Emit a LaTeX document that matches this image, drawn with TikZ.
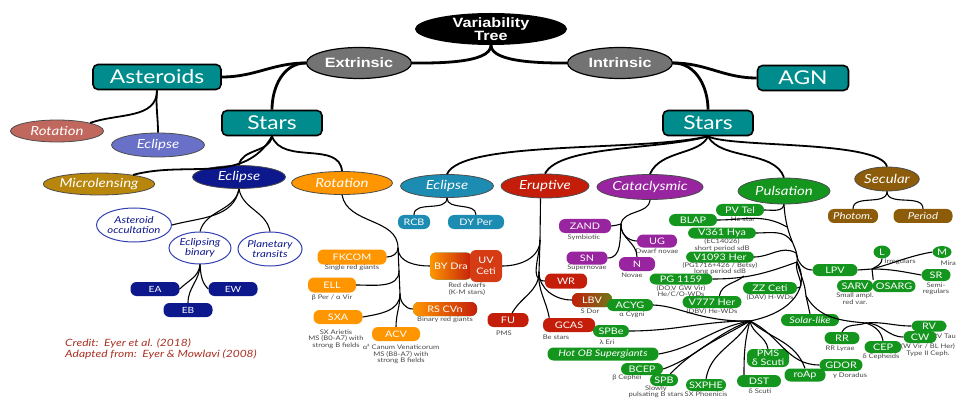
\documentclass[tikz,border=0pt]{standalone}
\usepackage{fontspec}
\setmainfont[FakeStretch=1.2]{Lato}
\newfontfamily\headfont[FakeStretch=1.2]{Liberation Sans}
\usetikzlibrary{shapes.geometric}
\definecolor{vtteal}{RGB}{0, 140, 140}
\definecolor{vtgray}{RGB}{115, 115, 115}
\definecolor{vtsalmon}{RGB}{192, 104, 94}
\definecolor{vtlilac}{RGB}{104, 112, 200}
\definecolor{vtgold}{RGB}{184, 134, 11}
\definecolor{vtnavy}{RGB}{12, 24, 140}
\definecolor{vtorange}{RGB}{255, 150, 0}
\definecolor{vtcyan}{RGB}{28, 140, 178}
\definecolor{vtred}{RGB}{196, 30, 10}
\definecolor{vtflare}{RGB}{214, 60, 20}
\definecolor{vtolive}{RGB}{112, 120, 24}
\definecolor{vtpurple}{RGB}{152, 36, 160}
\definecolor{vtgreen}{RGB}{20, 150, 30}
\definecolor{vtbrown}{RGB}{140, 92, 10}
\definecolor{vtring}{RGB}{50, 64, 176}
\definecolor{vtink}{RGB}{70, 70, 70}
\definecolor{vtcredit}{RGB}{170, 48, 36}

\begin{document}
\begin{tikzpicture}[x=1pt, y=1pt,
    trunk/.style={line width=2.8pt},
    bough/.style={line width=1.8pt},
    twig/.style={line width=1.1pt},
    rootnode/.style={ellipse, fill=black, text=white, align=center, inner sep=0pt,
        font=\headfont\bfseries\fontsize{13.5}{12.5}\selectfont},
    splitnode/.style={ellipse, draw=black, line width=1.2pt, fill=vtgray, text=white,
        inner sep=0pt, minimum width=105pt, minimum height=31pt,
        font=\headfont\bfseries\fontsize{13.5}{14}\selectfont},
    groupbox/.style={rectangle, rounded corners=5pt, draw=black, line width=1.6pt,
        fill=vtteal, text=white, inner sep=0pt, minimum height=25pt,
        font=\fontsize{19}{19}\selectfont},
    family/.style={ellipse, draw=black!70, line width=0.8pt, fill=#1, text=white,
        inner sep=0pt, minimum height=23pt, font=\itshape\fontsize{12.5}{13}\selectfont},
    ring/.style={ellipse, draw=vtring, line width=1pt, fill=white, text=vtnavy,
        align=center, inner sep=0pt, font=\itshape\fontsize{9.5}{10}\selectfont},
    leaf/.style={rectangle, rounded corners=6pt, fill=#1, text=white, align=center,
        inner sep=0pt, minimum height=13pt, font=\fontsize{9}{10}\selectfont},
    leaf/.default=vtgreen,
    note/.style={text=vtink, align=center, inner sep=0pt,
        font=\fontsize{6.3}{6.5}\selectfont}
]
\useasboundingbox (0,0) rectangle (957,-403);

% ============================================================
% ROOT and first split
% ============================================================
\node[rootnode, minimum width=152pt, minimum height=32pt] (vtree) at (491,-29) {Variability\\Tree};
\node[splitnode] (extr) at (359,-63) {Extrinsic};
\node[splitnode] (intr) at (620,-63) {Intrinsic};

% ============================================================
% EXTRINSIC side
% ============================================================
\node[groupbox, minimum width=128pt] (aster) at (157,-77) {Asteroids};
\node[groupbox, minimum width=100pt] (starsx) at (272,-123) {Stars};
\node[family=vtsalmon, minimum width=93pt, minimum height=22pt] (arot) at (57,-131) {Rotation};
\node[family=vtlilac, minimum width=93pt, minimum height=24pt] (aecl) at (158,-145) {Eclipse};
\node[family=vtgold, minimum width=111pt, minimum height=22pt] (micro) at (99,-184) {Microlensing};
\node[family=vtnavy, minimum width=93pt] (secl) at (239,-177) {Eclipse};
\node[family=vtorange, minimum width=101pt] (srot) at (342,-183) {Rotation};

% --- eclipse branch ---
\node[ring, minimum width=75pt, minimum height=34pt] (occult) at (134,-225) {Asteroid\\occultation};
\node[ring, minimum width=62pt, minimum height=32pt] (ebin) at (200,-248) {Eclipsing\\binary};
\node[ring, minimum width=60pt, minimum height=34pt] (transit) at (270,-249) {Planetary\\transits};
\node[leaf=vtnavy, minimum width=49pt, minimum height=14pt, font=\fontsize{8.5}{9}\selectfont] (ea) at (155,-289) {EA};
\node[leaf=vtnavy, minimum width=49pt, minimum height=14pt, font=\fontsize{8.5}{9}\selectfont] (ew) at (233,-289) {EW};
\node[leaf=vtnavy, minimum width=49pt, minimum height=14pt, font=\fontsize{8.5}{9}\selectfont] (eb) at (188,-310) {EB};

% --- rotation branch ---
\node[leaf=vtorange, minimum width=69pt, minimum height=15pt] (fkcom) at (352,-257) {FKCOM};
\node[note] (lbl-fkcom) at (352,-268) {Single red giants};
\node[leaf=vtorange, minimum width=48pt, minimum height=15pt] (ell) at (332,-285) {ELL};
\node[note] (lbl-ell) at (332,-298) {β Per / α Vir};
\node[leaf=vtorange, minimum width=49pt, minimum height=14pt] (sxa) at (338,-317) {SXA};
\node[note] (lbl-sxa) at (336,-339) {SX Arietis\\MS (B0-A7) with\\strong B fields};
\node[leaf=vtorange, minimum width=48pt, minimum height=14pt] (acv) at (396,-334) {ACV};
\node[note] (lbl-acv) at (401,-354) {α² Canum Venaticorum\\MS (B8-A7) with\\strong B fields};
\node[leaf, left color=vtorange, right color=vtred, minimum width=64pt, minimum height=14pt] (rscvn) at (445,-309) {RS CVn};
\node[note] (lbl-rscvn) at (445,-320) {Binary red giants};
\node[leaf, left color=vtorange, right color=vtred, minimum width=42pt, minimum height=27pt] (bydra) at (451,-266) {BY Dra};
\node[leaf=vtflare, minimum width=32pt, minimum height=32pt, font=\fontsize{9}{11}\selectfont] (uvceti) at (486,-266) {UV\\Ceti};
\node[note] (lbl-bydra) at (467,-289) {Red dwarfs\\(K-M stars)};

% --- credit ---
\node[font=\itshape\fontsize{10}{11}\selectfont, text=vtcredit, align=left, anchor=west, inner sep=0pt] (credit) at (65,-349) {Credit:\ \ Eyer et al. (2018)\\Adapted from:\ \ Eyer \& Mowlavi (2008)};

% ============================================================
% INTRINSIC side
% ============================================================
\node[groupbox, minimum width=91pt] (agn) at (803,-78) {AGN};
\node[groupbox, minimum width=90pt] (starsi) at (708,-123) {Stars};
\node[family=vtcyan, minimum width=93pt] (iecl) at (447,-186) {Eclipse};
\node[family=vtred, minimum width=88pt, minimum height=24pt] (erupt) at (545,-186) {Eruptive};
\node[family=vtpurple, minimum width=103pt, minimum height=25pt] (catac) at (650,-187) {Cataclysmic};
\node[family=vtgreen, minimum width=92pt, minimum height=26pt] (pulsa) at (784,-191) {Pulsation};
\node[family=vtbrown, minimum width=62pt, minimum height=24pt] (secul) at (887,-179) {Secular};

% --- eclipse and secular ---
\node[leaf=vtcyan, minimum width=32pt, minimum height=14pt] (rcb) at (414,-222) {RCB};
\node[leaf=vtcyan, minimum width=56pt, minimum height=14pt] (dyper) at (476,-222) {DY Per};
\node[leaf=vtbrown, minimum width=50pt, minimum height=14pt, font=\itshape\fontsize{9.5}{10}\selectfont] (photom) at (853,-216) {Photom.};
\node[leaf=vtbrown, minimum width=59pt, minimum height=14pt, font=\itshape\fontsize{9.5}{10}\selectfont] (period) at (923,-216) {Period};

% --- eruptive ---
\node[leaf=vtred, minimum width=42pt, minimum height=15pt] (wr) at (566,-281) {WR};
\node[leaf, left color=vtred, right color=vtolive, minimum width=40pt, minimum height=14pt] (lbv) at (592,-300) {LBV};
\node[note] (lbl-lbv) at (590,-311) {S Dor};
\node[leaf=vtred, minimum width=52pt, minimum height=14pt] (gcas) at (569,-325) {GCAS};
\node[note] (lbl-gcas) at (556,-337) {Be stars};
\node[leaf=vtred, minimum width=41pt, minimum height=14pt] (fu) at (508,-320) {FU};
\node[note] (lbl-fu) at (504,-333) {PMS};

% --- cataclysmic ---
\node[leaf=vtpurple, minimum width=52pt, minimum height=14pt] (zand) at (585,-226) {ZAND};
\node[note] (lbl-zand) at (584,-238) {Symbiotic};
\node[leaf=vtpurple, minimum width=41pt] (sn) at (587,-258) {SN};
\node[note] (lbl-sn) at (587,-268) {Supernovae};
\node[leaf=vtpurple, minimum width=40pt] (ug) at (657,-241) {UG};
\node[note] (lbl-ug) at (657,-251) {Dwarf novae};
\node[leaf=vtpurple, minimum width=36pt, minimum height=14pt] (nova) at (637,-264) {N};
\node[note] (lbl-nova) at (632,-275) {Novae};

% --- pulsation ---
\node[leaf, minimum width=48pt, minimum height=12pt] (pvtel) at (740,-210) {PV Tel};
\node[note] (lbl-pvtel) at (743,-219.5) {He star};
\node[leaf, minimum width=48pt, minimum height=12pt] (blap) at (693,-220) {BLAP};
\node[leaf, minimum width=68pt, minimum height=11pt] (v361) at (722,-233) {V361 Hya};
\node[note] (lbl-v361) at (722,-245) {(EC14026)\\short period sdB};
\node[leaf, minimum width=68pt, minimum height=11pt] (v1093) at (720,-257) {V1093 Her};
\node[note] (lbl-v1093) at (720,-268.5) {(PG1716+426 / Betsy)\\long period sdB};
\node[leaf, minimum width=63pt, minimum height=11pt] (pg1159) at (681,-279) {PG 1159};
\node[note] (lbl-pg1159) at (681,-291) {(DO,V GW Vir)\\He/C/O-WDs};
\node[leaf, minimum width=54pt, minimum height=12pt] (zzceti) at (770,-288) {ZZ Ceti};
\node[note] (lbl-zzceti) at (770,-298) {(DAV) H-WDs};
\node[leaf, minimum width=59pt, minimum height=12pt] (v777) at (712,-302) {V777 Her};
\node[note] (lbl-v777) at (712,-312) {(DBV) He-WDs};
\node[leaf, minimum width=46pt, minimum height=12pt] (acyg) at (630,-305) {ACYG};
\node[note] (lbl-acyg) at (632,-314.5) {α Cygni};
\node[leaf, minimum width=36pt, minimum height=12pt] (spbe) at (611,-331) {SPBe};
\node[note] (lbl-spbe) at (607,-342) {λ Eri};
\node[leaf, minimum width=111pt, font=\itshape\fontsize{9}{10}\selectfont] (hotob) at (603,-354) {Hot OB Supergiants};
\node[leaf, minimum width=42pt, minimum height=12pt] (bcep) at (642,-369) {BCEP};
\node[note] (lbl-bcep) at (627,-378) {β Cephei};
\node[leaf, minimum width=28pt, minimum height=12pt] (spb) at (664,-380) {SPB};
\node[note] (lbl-spb) at (656,-392) {Slowly\\pulsating B stars};
\node[leaf, minimum width=40pt, minimum height=12pt] (sxphe) at (706,-385) {SXPHE};
\node[note] (lbl-sxphe) at (706,-394.5) {SX Phoenicis};
\node[leaf, minimum width=42pt, minimum height=18pt, font=\fontsize{9}{8.5}\selectfont] (pms) at (768,-358) {PMS\\δ Scuti};
\node[leaf, minimum width=44pt, minimum height=12pt] (dst) at (759,-381) {DST};
\node[note] (lbl-dst) at (760,-391.5) {δ Scuti};
\node[leaf, minimum width=41pt] (roap) at (805,-375) {roAp};
\node[leaf, minimum width=43pt, minimum height=12pt] (gdor) at (841,-365) {GDOR};
\node[note] (lbl-gdor) at (850,-375.5) {γ Doradus};
\node[leaf, minimum width=58pt, minimum height=12pt, font=\itshape\fontsize{9}{10}\selectfont] (solar) at (810,-320) {Solar-like};
\node[leaf, minimum width=35pt, minimum height=12pt] (rr) at (842,-338) {RR};
\node[note] (lbl-rr) at (840,-348.5) {RR Lyrae};
\node[leaf, minimum width=37pt, minimum height=12pt] (cep) at (883,-347) {CEP};
\node[note] (lbl-cep) at (881,-357) {δ Cepheids};
\node[leaf, minimum width=35pt, minimum height=11pt] (rv) at (929,-326) {RV};
\node[note, anchor=east] (lbl-rv) at (956,-336) {RV Tau};
\node[leaf, minimum width=33pt, minimum height=12pt] (cw) at (920,-337) {CW};
\node[note] (lbl-cw) at (928,-350) {(W Vir / BL Her)\\Type II Ceph.};

% --- long period variables ---
\node[leaf, minimum width=45pt, minimum height=12pt] (lpv) at (835,-270) {LPV};
\node[leaf, ellipse, minimum width=17pt, minimum height=13pt] (lirr) at (882,-252) {L};
\node[note] (lbl-lirr) at (900,-261.5) {Irregulars};
\node[leaf, ellipse, minimum width=19pt, minimum height=12pt] (mira) at (942,-252) {M};
\node[note, anchor=east] (lbl-mira) at (956,-263) {Mira};
\node[leaf, minimum width=29pt, minimum height=12pt] (sr) at (936,-275) {SR};
\node[note] (lbl-sr) at (936,-289) {Semi-\\regulars};
\node[leaf, minimum width=36pt, minimum height=12pt] (sarv) at (855,-286) {SARV};
\node[note] (lbl-sarv) at (855,-298.5) {Small ampl.\\red var.};
\node[leaf, minimum width=43pt, minimum height=12pt] (osarg) at (894,-286) {OSARG};

% ============================================================
% CONNECTORS
% ============================================================

% top levels
\draw[trunk] (vtree.south) to[out=-90, in=0, looseness=0.6] (extr.east);
\draw[trunk] (vtree.south) to[out=-90, in=180, looseness=0.6] (intr.west);
\draw[trunk] (extr.west) to[out=180, in=0] (aster.east);
\draw[trunk] (extr.west) to[out=180, in=90] (starsx.north);
\draw[trunk] (intr.east) to[out=0, in=180] (agn.west);
\draw[trunk] (intr.east) to[out=0, in=90] (starsi.north);

% asteroids and extrinsic stars
\draw[bough] (aster.south) to[out=-90, in=20] (arot.north east);
\draw[bough] (aster.south) to[out=-95, in=90] (aecl.north);
\draw[bough] (starsx.south) to[out=-120, in=15] (micro.15);
\draw[bough] (starsx.south) to[out=-100, in=80] (secl.north);
\draw[bough] (starsx.south) to[out=-70, in=95] (srot.north);

% eclipse (extrinsic)
\draw[twig] (secl.south) to[out=-100, in=15] (occult.east);
\draw[twig] (secl.south) to[out=-100, in=75] (ebin.north);
\draw[twig] (secl.south) to[out=-80, in=100] (transit.north);
\draw[twig] (ebin.south) to[out=-95, in=45] (ea.east);
\draw[twig] (ebin.south) to[out=-90, in=90] (eb.north);
\draw[twig] (ebin.south) to[out=-85, in=135] (ew.west);

% rotation
\coordinate (rotj) at (398,-248);
\coordinate (rotm) at (399,-271);
\coordinate (rotk) at (400,-294);
\draw[twig] (srot.south) to[out=-80, in=90] (rotj) -- (rotk);
\draw[twig] (fkcom.east) to[out=0, in=-90] (rotj);
\draw[twig] (ell.east) to[out=0, in=-90] (rotm);
\draw[twig] (rotk) to[out=-90, in=10] (sxa.east);
\draw[twig] (rotk) to[out=-90, in=90] (acv.north);
\draw[twig] (rotk) to[out=-90, in=180] (rscvn.west);
\draw[twig] (rotj) to[out=-90, in=180] (bydra.west);

% intrinsic stars
\draw[bough] (starsi.south) .. controls (640,-152) and (462,-140) .. (iecl.north);
\draw[bough] (starsi.south) .. controls (660,-150) and (560,-145) .. (erupt.north);
\draw[bough] (starsi.south) .. controls (700,-155) and (660,-150) .. (catac.north);
\draw[bough] (starsi.south) .. controls (720,-160) and (775,-150) .. (pulsa.north);
\draw[bough] (starsi.south) .. controls (730,-148) and (880,-140) .. (secul.north);

% eclipse (intrinsic) and secular
\draw[twig] (iecl.south) to[out=-90, in=90] (rcb.north);
\draw[twig] (iecl.south) to[out=-90, in=90] (dyper.north);
\draw[twig] (secul.south) to[out=-90, in=90] (photom.north);
\draw[twig] (secul.south) to[out=-90, in=90] (period.north);

% eruptive
\coordinate (erj1) at (540,-240);
\coordinate (erj2) at (539,-272);
\draw[twig] (erupt.250) -- (erj1) -- (erj2);
\draw[twig] (uvceti.east) to[out=0, in=-90] (erj1);
\draw[twig] (erj1) to[out=-90, in=180] (wr.west);
\draw[twig] (erj2) to[out=-90, in=60] (fu.60);
\draw[twig] (erj2) to[out=-90, in=180] (lbv.west);
\draw[twig] (erj2) to[out=-95, in=100] (gcas.160);

% cataclysmic
\coordinate (catj) at (621,-224);
\draw[twig] (catac.south) to[out=-95, in=80] (catj);
\draw[twig] (catj) to[out=190, in=0] (zand.east);
\draw[twig] (catj) to[out=-95, in=0] (sn.east);
\draw[twig] (catj) to[out=-95, in=180] (ug.west);
\draw[twig] (catj) to[out=-95, in=90] (nova.north);

% pulsation
\coordinate (ptm) at (797,-262);
\coordinate (hub) at (750,-321);
\coordinate (jblap) at (787,-227);
\coordinate (jv361) at (792,-242);
\coordinate (jv1093) at (796,-253);
\coordinate (wdj) at (744,-276);
\coordinate (rj) at (806,-296);
\coordinate (rsj) at (866,-323);
\coordinate (lpvj) at (872,-269);
\draw[twig] (pulsa.south) .. controls (786,-240) and (800,-250) .. (ptm)
    .. controls (810,-285) and (795,-312) .. (hub);
\draw[twig] (pulsa.south) to[out=-100, in=0] (pvtel.east);
\draw[twig] (blap.east) to[out=0, in=150] (jblap);
\draw[twig] (v361.east) to[out=0, in=120] (jv361);
\draw[twig] (v1093.east) to[out=0, in=150] (jv1093);
\draw[twig] (pg1159.east) to[out=0, in=-160] (ptm);
\draw[twig] (zzceti.east) to[out=0, in=-110] (ptm);
\draw[twig] (wdj) to[out=-140, in=80] (v777.40);

% pulsation: hub fan
\draw[twig] (hub) .. controls (700,-322) and (680,-306) .. (acyg.east);
\draw[twig] (hub) to[out=180, in=0] (spbe.east);
\draw[twig] (hub) to[out=190, in=10] (hotob.east);
\draw[twig] (hub) to[out=200, in=20] (bcep.east);
\draw[twig] (hub) to[out=210, in=45] (spb.45);
\draw[twig] (hub) to[out=240, in=80] (sxphe.north);
\draw[twig] (hub) to[out=-80, in=100] (pms.north);
\draw[twig] (hub) to[out=-105, in=90] ([xshift=-15pt]dst.north);
\draw[twig] (hub) to[out=-40, in=110] (roap.north);
\draw[twig] (hub) to[out=-25, in=180] (gdor.west);

% pulsation: right side
\draw[twig] (jv1093) to[out=-80, in=180] (lpv.west);
\draw[twig] (ptm) to[out=-75, in=95] (rj);
\draw[twig] (rj) -- (solar.north);
\draw[twig] (rj) to[out=-60, in=175] (rsj);
\draw[twig] (rsj) to[out=-160, in=60] (rr.north);
\draw[twig] (rsj) to[out=-20, in=100] (cep.north);
\draw[twig] (rsj) to[out=0, in=180] (cw.west);
\draw[twig] (rsj) to[out=5, in=180] (rv.west);

% long period variables
\draw[twig] (lpv.east) -- (lpvj);
\draw[twig] (lpvj) to[out=30, in=-90] (lirr.south);
\draw[twig] (lpvj) to[out=15, in=190] (mira.west);
\draw[twig] (lpvj) to[out=0, in=170] (sr.west);
\draw[twig] (lpvj) -- (sarv.north east);

\end{tikzpicture}
\end{document}
